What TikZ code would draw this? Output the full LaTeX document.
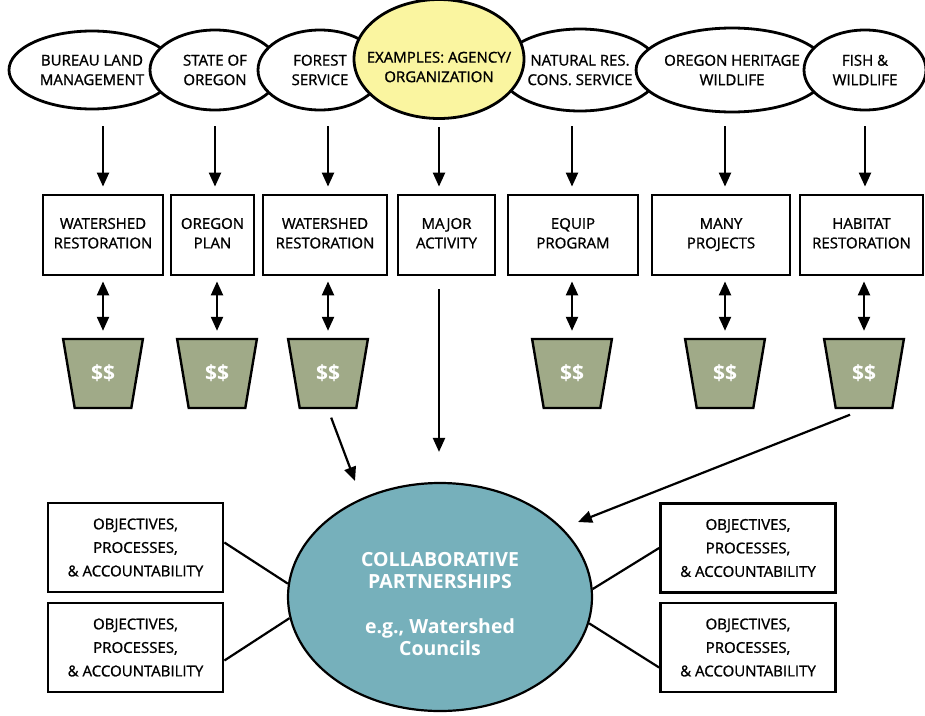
\documentclass[tikz,border=0pt]{standalone}
\usepackage{fontspec}
\setmainfont{Open Sans}[UprightFeatures={FakeBold=1.2}]
\usetikzlibrary{arrows.meta,shapes.geometric}
\definecolor{bucketgreen}{RGB}{160,170,136}
\definecolor{teal}{RGB}{118,176,187}
\definecolor{paleyellow}{RGB}{250,245,160}
\newcommand{\toptext}{\fontsize{15}{19.5}\selectfont}
\newcommand{\sidetext}{\fontsize{15}{23.5}\selectfont}
\newcommand{\buckfont}{\fontsize{21}{22}\selectfont\bfseries}
\newcommand{\centertext}{\fontsize{19.5}{22.5}\selectfont\bfseries}
\begin{document}
\begin{tikzpicture}[x=1pt,y=-1pt,
  ell/.style={ellipse, draw, line width=2.8pt, fill=white, inner sep=0pt, align=center, font=\toptext},
  boxn/.style={rectangle, draw, line width=2.8pt, fill=white, inner sep=0pt, align=center, font=\toptext, minimum height=80pt, execute at end node={\rule[-3.6pt]{0pt}{3.6pt}}},
  sidebox/.style={rectangle, draw, line width=2.8pt, fill=white, inner sep=0pt, align=center, font=\sidetext, minimum width=175pt, minimum height=89pt},
  bucket/.style={trapezium, trapezium stretches=true, shape border rotate=180, trapezium angle=74, minimum width=80pt, minimum height=69pt, draw, line width=2.4pt, fill=bucketgreen, text=white, font=\buckfont, inner sep=0pt},
  arr/.style={line width=2.2pt, -{Triangle[length=14pt,width=12pt]}},
  dbl/.style={line width=2.2pt, {Triangle[length=14pt,width=12pt]}-{Triangle[length=14pt,width=12pt]}},
  link/.style={line width=2.2pt}
]
\useasboundingbox (0,0) rectangle (925,715);

% top ellipses
\node[ell, minimum width=166pt, minimum height=78pt] (e1) at (92,70) {BUREAU LAND\\MANAGEMENT};
\node[ell, minimum width=130pt, minimum height=80pt] (e2) at (215,70) {STATE OF\\OREGON};
\node[ell, minimum width=124pt, minimum height=80pt] (e3) at (320,70) {FOREST\\SERVICE};
\node[ell, minimum width=160pt, minimum height=82pt] (e5) at (580,70) {NATURAL RES.\\CONS. SERVICE};
\node[ell, minimum width=184pt, minimum height=84pt] (e6) at (732,70) {OREGON HERITAGE\\WILDLIFE};
\node[ell, minimum width=122pt, minimum height=80pt] (e7) at (865,70) {FISH \&\\WILDLIFE};
\node[ell, fill=paleyellow, minimum width=170pt, minimum height=119pt] (e4) at (439,59) {};
\node[align=center, font=\toptext, inner sep=0pt] (e4t) at (439,67) {EXAMPLES: AGENCY/\\ORGANIZATION};

% activity boxes
\node[boxn, minimum width=120pt] (w1) at (103,235) {WATERSHED\\RESTORATION};
\node[boxn, minimum width=83pt] (w2) at (212.5,235) {OREGON\\PLAN};
\node[boxn, minimum width=124pt] (w3) at (325,235) {WATERSHED\\RESTORATION};
\node[boxn, minimum width=97pt] (w4) at (446.5,235) {MAJOR\\ACTIVITY};
\node[boxn, minimum width=130pt] (w5) at (573,235) {EQUIP\\PROGRAM};
\node[boxn, minimum width=138pt] (w6) at (721,235) {MANY\\PROJECTS};
\node[boxn, minimum width=123pt] (w7) at (861.5,235) {HABITAT\\RESTORATION};

% buckets
\node[bucket] (b1) at (103,373.5) {\$\$};
\node[bucket] (b2) at (217,373.5) {\$\$};
\node[bucket] (b3) at (328,373.5) {\$\$};
\node[bucket] (b5) at (572,373.5) {\$\$};
\node[bucket] (b6) at (725,373.5) {\$\$};
\node[bucket] (b7) at (864,373.5) {\$\$};

% centre
\node[ellipse, draw, line width=2.2pt, fill=teal, minimum width=304pt, minimum height=228pt, inner sep=0pt] (cp) at (440,597) {};
\node[align=center, text=white, font=\centertext, inner sep=0pt] (cpt) at (440,604) {COLLABORATIVE\\PARTNERSHIPS\\[22pt]e.g., Watershed\\Councils};

% side boxes
\node[sidebox] (l1) at (135.5,547.5) {OBJECTIVES,\\PROCESSES,\\\& ACCOUNTABILITY};
\node[sidebox] (l2) at (135.5,647.5) {OBJECTIVES,\\PROCESSES,\\\& ACCOUNTABILITY};
\node[sidebox] (r1) at (748,548) {OBJECTIVES,\\PROCESSES,\\\& ACCOUNTABILITY};
\node[sidebox] (r2) at (748,647.5) {OBJECTIVES,\\PROCESSES,\\\& ACCOUNTABILITY};

% arrows ellipse -> box
\draw[arr, shorten <=16pt, shorten >=7pt] (e1.south -| w1.north) -- (w1.north);
\draw[arr, shorten <=15pt, shorten >=7pt] (e2.south) -- (e2.south |- w2.north);
\draw[arr, shorten <=15pt, shorten >=7pt] (e3.south -| b3.north) -- (b3.north |- w3.north);
\draw[arr, shorten <=7pt, shorten >=7pt] (e4.south) -- (e4.south |- w4.north);
\draw[arr, shorten <=14pt, shorten >=7pt] (e5.south -| b5.north) -- (b5.north |- w5.north);
\draw[arr, shorten <=13pt, shorten >=7pt] (e6.south -| b6.north) -- (b6.north |- w6.north);
\draw[arr, shorten <=15pt, shorten >=7pt] (e7.south) -- (e7.south |- w7.north);

% double arrows box <-> bucket
\foreach \w/\b in {w1/b1,w2/b2,w3/b3,w5/b5,w6/b6,w7/b7}{
  \draw[dbl, shorten <=5pt, shorten >=7pt] (\b.north |- \w.south) -- (\b.north);
}

% arrows into centre
\coordinate (t1) at (355,481);
\coordinate (t2) at (578,522);
\draw[arr, shorten <=9pt] (b3.south) -- (t1);
\draw[arr, shorten <=13pt, shorten >=30pt] (e4.south |- w4.south) -- (e4.south |- cp.north);
\draw[arr, shorten <=15pt] (b7.south) -- (t2);

% links to side boxes
\draw[link] ([yshift=5pt]l1.east) -- (cp.175);
\draw[link] ([yshift=-13pt]l2.east) -- (cp.188);
\draw[link] (r1.west) -- (cp.3);
\draw[link] ([yshift=-20pt]r2.west) -- (cp.-10);
\end{tikzpicture}
\end{document}
